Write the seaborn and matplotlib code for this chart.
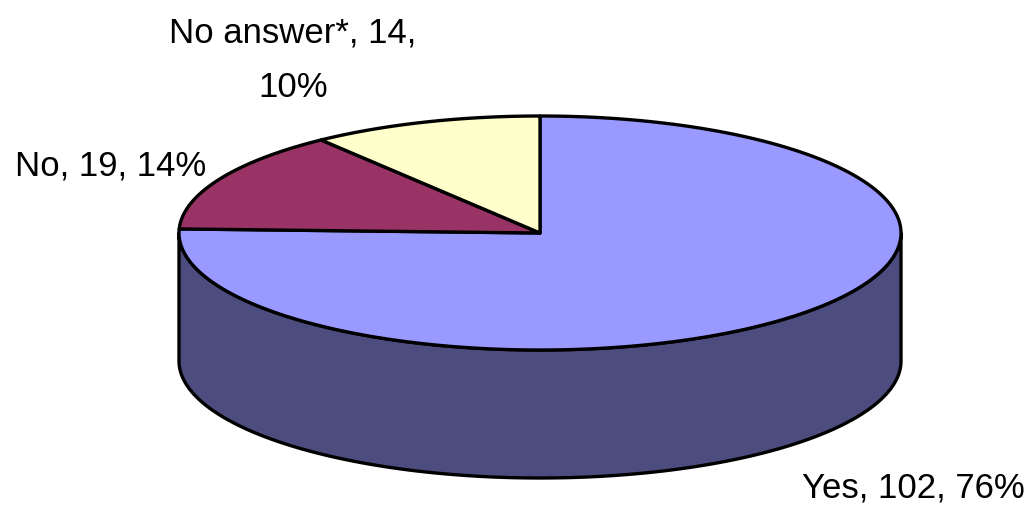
import numpy as np
import matplotlib
matplotlib.use("Agg")
import matplotlib.pyplot as plt
from matplotlib.patches import Polygon
import seaborn as sns

categories = ["Yes", "No", "No answer*"]
counts = [102, 19, 14]
top_colors = ["#9999FF", "#993366", "#FFFFCC"]
side_colors = ["#4C4C7E", "#4C1A33", "#7F7F66"]

sns.set_style("white")
plt.rcParams["font.family"] = ["Liberation Sans", "DejaVu Sans"]

# ellipse geometry in pixel units (y grows downward)
CX, CY, RX, RY, DEPTH = 540, 233, 361, 117, 128


def arc(t0, t1, dy=0.0, n=300):
    t = np.radians(np.linspace(t0, t1, n))
    return np.column_stack([CX + RX * np.cos(t), CY - RY * np.sin(t) + dy])


def main():
    fig = plt.figure(figsize=(10.31, 5.07), dpi=100)
    ax = fig.add_axes([0, 0, 1, 1])
    ax.set_xlim(0, 1031)
    ax.set_ylim(507, 0)
    ax.axis("off")

    total = sum(counts)
    fracs = np.array(counts) / total
    cum = np.concatenate([[0], np.cumsum(fracs)])
    # slices run clockwise from 12 o'clock
    starts = 90 - 360 * cum[:-1]
    ends = 90 - 360 * cum[1:]

    # side walls: only the front half (180..360 deg) is visible
    for s, e, col in zip(starts, ends, side_colors):
        lo, hi = e % 360, s % 360
        if hi <= lo:
            hi += 360
        a0, a1 = max(lo, 180), min(hi, 360)
        if a1 <= a0:
            continue
        top = arc(a0, a1)
        bot = arc(a1, a0, DEPTH)
        ax.add_patch(Polygon(np.vstack([top, bot]), closed=True, facecolor=col,
                             edgecolor="black", lw=2.4, joinstyle="round"))

    # top faces
    for s, e, col in zip(starts, ends, top_colors):
        pts = np.vstack([[CX, CY], arc(s, e)])
        ax.add_patch(Polygon(pts, closed=True, facecolor=col,
                             edgecolor="black", lw=2.4, joinstyle="round"))

    pcts = np.round(fracs * 100).astype(int)
    labels = [f"{c}, {n}, {p}%" for c, n, p in zip(categories, counts, pcts)]
    labels[2] = f"{categories[2]}, {counts[2]},\n{pcts[2]}%"

    layout = [(1025, 497, "right"), (15, 175, "left"), (293, 97, "center")]
    for lab, (x, y, ha) in zip(labels, layout):
        ax.text(x, y, lab, ha=ha, va="baseline", fontsize=25, color="black",
                multialignment="center", linespacing=1.82)

    fig.savefig("out.png", dpi=100)


if __name__ == "__main__":
    main()
